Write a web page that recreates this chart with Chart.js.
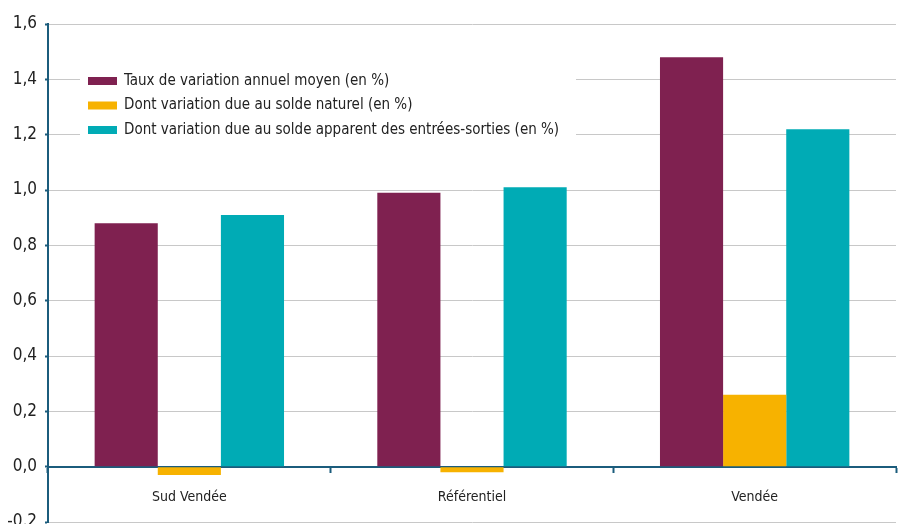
<!DOCTYPE html>
<html>
<head>
<meta charset="utf-8">
<script src="https://cdn.jsdelivr.net/npm/chart.js@4.4.0/dist/chart.umd.min.js"></script>
<style>
  html, body { margin: 0; padding: 0; background: #fff; overflow: hidden; }
  #wrap { width: 902px; height: 546px; }
</style>
</head>
<body>
<div id="wrap"><canvas id="myChart"></canvas></div>
<script>
// données
var categories = ["Sud Vendée", "Référentiel", "Vendée"];
var tauxMoyen = [0.88, 0.99, 1.48];
var soldeNaturel = [-0.03, -0.02, 0.26];
var soldeApparent = [0.91, 1.01, 1.22];
var seriesLabels = [
    "Taux de variation annuel moyen (en %)",
    "Dont variation due au solde naturel (en %)",
    "Dont variation due au solde apparent des entrées-sorties (en %)"
];
var yTicks = [-0.2, 0, 0.2, 0.4, 0.6, 0.8, 1.0, 1.2, 1.4, 1.6];

var couleurs = ["#7f2150", "#f7b200", "#00abb5"];
var axeCouleur = "#1b5c7c";
var police = "'DejaVu Sans Condensed', 'Liberation Sans', Arial, sans-serif";

// légende dessinée dans la zone du graphique, sur fond blanc
var legendeInterne = {
    id: 'legendeInterne',
    afterDatasetsDraw: function(chart) {
        var ctx = chart.ctx;
        ctx.save();
        ctx.fillStyle = '#fff';
        ctx.fillRect(80, 60, 496, 86);
        ctx.font = '15px ' + police;
        ctx.textBaseline = 'middle';
        chart.data.datasets.forEach(function(ds, i) {
            var y = 81 + i * 24.5;
            ctx.fillStyle = ds.backgroundColor;
            ctx.fillRect(88, y - 4, 29, 8);
            ctx.fillStyle = '#222';
            ctx.fillText(ds.label, 124, y);
        });
        ctx.restore();
    }
};

new Chart(document.getElementById('myChart'), {
    type: 'bar',
    data: {
        labels: categories,
        datasets: [
            { label: seriesLabels[0], data: tauxMoyen, backgroundColor: couleurs[0] },
            { label: seriesLabels[1], data: soldeNaturel, backgroundColor: couleurs[1] },
            { label: seriesLabels[2], data: soldeApparent, backgroundColor: couleurs[2] }
        ]
    },
    options: {
        responsive: true,
        maintainAspectRatio: false,
        animation: false,
        layout: { padding: { top: 24, right: 6, bottom: 24, left: 0 } },
        datasets: { bar: { categoryPercentage: 0.67, barPercentage: 1.0 } },
        plugins: {
            legend: { display: false },
            tooltip: { enabled: false }
        },
        scales: {
            x: {
                position: { y: 0 },
                grid: { drawOnChartArea: false, tickLength: 5, tickColor: axeCouleur, tickWidth: 2 },
                border: { color: axeCouleur, width: 2 },
                ticks: { color: '#222', font: { family: police, size: 14 }, padding: 17 }
            },
            y: {
                min: -0.2,
                max: 1.6,
                afterBuildTicks: function(axis) {
                    axis.ticks = yTicks.map(function(v) { return { value: v }; });
                },
                afterFit: function(axis) { axis.width = 48; },
                grid: { color: '#c8c8c8', lineWidth: 1, tickLength: 3, tickColor: axeCouleur, tickWidth: 2 },
                border: { color: axeCouleur, width: 2 },
                ticks: {
                    color: '#222',
                    font: { family: police, size: 17 },
                    padding: 8,
                    callback: function(v) { return v.toFixed(1).replace('.', ','); }
                }
            }
        }
    },
    plugins: [legendeInterne]
});
</script>
</body>
</html>
